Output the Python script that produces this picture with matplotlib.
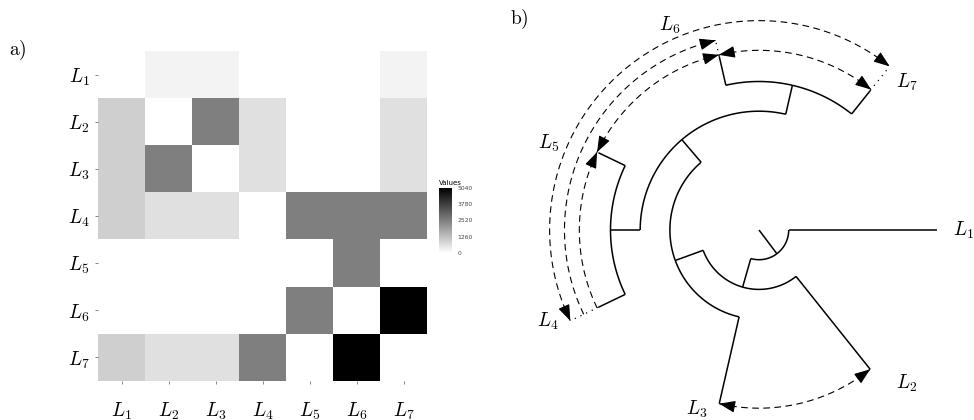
import numpy as np
import matplotlib
matplotlib.use('Agg')
import matplotlib.pyplot as plt
from matplotlib.colors import LinearSegmentedColormap

plt.rcParams['mathtext.fontset'] = 'cm'

# ---- data: heatmap (rows L1..L7 top to bottom, cols L1..L7) ----
names = ['L1', 'L2', 'L3', 'L4', 'L5', 'L6', 'L7']
tick_labels = [r'$L_{1}$', r'$L_{2}$', r'$L_{3}$', r'$L_{4}$', r'$L_{5}$', r'$L_{6}$', r'$L_{7}$']
heat = np.array([
    [0,   250, 250, 0,    0,    0,    250],
    [950, 0,   2520, 620, 0,    0,    620],
    [950, 2520, 0,  620,  0,    0,    620],
    [950, 620, 620, 0,    2520, 2520, 2520],
    [0,   0,   0,   0,    0,    2520, 0],
    [0,   0,   0,   0,    2520, 0,    5040],
    [950, 620, 620, 2520, 0,    5040, 0],
])
cbar_ticks = [0, 1260, 2520, 3780, 5040]

# ---- data: circular dendrogram ----
tip_angle = [0, -51.4, -102.9, -154.3, -205.7, -257.1, -308.6]   # degrees
tip_level = 6
node_names = ['root', 'A', 'B', 'C', 'D', 'E']
node_angle = [-53, -106, -160, -229.5, -180, -283]
node_level = [1, 2, 3, 4, 5, 5]
children = {'root': ['L1', 'A'], 'A': ['L2', 'B'], 'B': ['L3', 'C'],
            'C': ['D', 'E'], 'D': ['L4', 'L5'], 'E': ['L6', 'L7']}

# dashed links between tips
link_from = ['L3', 'L4', 'L5', 'L6', 'L4', 'L4']
link_to = ['L2', 'L5', 'L6', 'L7', 'L6', 'L7']
link_level = [6.0, 6.05, 6.05, 6.05, 6.55, 7.05]
link_heads = ['both', 'end', 'both', 'both', 'end', 'both']

# ---- figure ----
fig = plt.figure(figsize=(9.74, 4.2), dpi=100)

# a) heatmap
ax1 = fig.add_axes([98 / 974, 1 - 381 / 420, 329 / 974, 330 / 420])
cmap = LinearSegmentedColormap.from_list('wb', ['white', 'black'])
im = ax1.imshow(heat, cmap=cmap, vmin=0, vmax=5040, aspect='auto', interpolation='nearest')
ax1.set_xticks(range(7))
ax1.set_yticks(range(7))
ax1.set_xticklabels(tick_labels, fontsize=14)
ax1.set_yticklabels(tick_labels, fontsize=14)
ax1.tick_params(axis='x', length=2, width=0.5, color='#555555', pad=12)
ax1.tick_params(axis='y', length=2, width=0.5, color='#555555', pad=4)
for s in ax1.spines.values():
    s.set_visible(False)

cax = fig.add_axes([439 / 974, 1 - 253 / 420, 13 / 974, 65 / 420])
cb = fig.colorbar(im, cax=cax, ticks=cbar_ticks)
cb.outline.set_visible(False)
cax.tick_params(labelsize=4.3, length=2, width=0.5, color='white', pad=2, labelcolor='#444444')
cax.set_title('Values', fontsize=5, loc='left', pad=2)

fig.text(18 / 974, 1 - 50 / 420, r'$\mathrm{a)}$', fontsize=14, ha='center', va='center')
fig.text(519 / 974, 1 - 19 / 420, r'$\mathrm{b)}$', fontsize=14, ha='center', va='center')

# b) circular dendrogram, axes units = pixels, centre at (0, 0)
ax2 = fig.add_axes([0.5, 0, 0.5, 1])
ax2.set_xlim(-272, 215)
ax2.set_ylim(-190, 230)
ax2.axis('off')
U = 29.7  # pixels per level


def pos(level, ang):
    t = np.radians(ang)
    return level * U * np.cos(t), level * U * np.sin(t)


angle = dict(zip(names, tip_angle))
angle.update(zip(node_names, node_angle))
level = {n: tip_level for n in names}
level.update(zip(node_names, node_level))

kw = dict(color='black', lw=1.1, solid_capstyle='butt')
# root edge
x0, y0 = pos(0, angle['root'])
x1, y1 = pos(level['root'], angle['root'])
ax2.plot([x0, x1], [y0, y1], **kw)
for parent, kids in children.items():
    r = level[parent]
    a = [angle[k] for k in kids]
    th = np.linspace(min(a), max(a), 120)
    xs, ys = pos(r, th)
    ax2.plot(xs, ys, **kw)
    for k in kids:
        xa, ya = pos(r, angle[k])
        xb, yb = pos(level[k], angle[k])
        ax2.plot([xa, xb], [ya, yb], **kw)


def head(lv, a_end, a_from):
    sgn = np.sign(a_end - a_from)
    d = np.degrees(12 / (lv * U))
    ax2.annotate('', xy=pos(lv, a_end), xytext=pos(lv, a_end - sgn * d),
                 arrowprops=dict(arrowstyle='-|>,head_length=0.7,head_width=0.26',
                                 mutation_scale=14, color='black', lw=0.8,
                                 shrinkA=0, shrinkB=0))


reach = {}
for f, t, lv, h in zip(link_from, link_to, link_level, link_heads):
    a0, a1 = angle[f], angle[t]
    th = np.linspace(a0, a1, 200)
    xs, ys = pos(lv, th)
    ax2.plot(xs, ys, color='black', lw=0.8, linestyle=(0, (6, 4)))
    head(lv, a1, a0)
    if h == 'both':
        head(lv, a0, a1)
    for n in (f, t):
        reach[n] = max(reach.get(n, 0), lv)

for n, lv in reach.items():
    if lv - tip_level > 0.2:
        xa, ya = pos(tip_level, angle[n])
        xb, yb = pos(lv, angle[n])
        ax2.plot([xa, xb], [ya, yb], color='black', lw=0.9, linestyle=(0, (1, 4)))

# tip labels
label_r = [7.25, 7.17, 6.4, 7.74, 7.67, 7.53, 7.04]
label_a = [0, -46, -109, 203.5, 157.6, 113.5, 45.1]
for i, n in enumerate(names):
    x, y = pos(label_r[i], label_a[i])
    ax2.text(x, y, tick_labels[i], fontsize=14, ha='right' if i == 0 else 'center', va='center')

fig.savefig('out.png', dpi=100)
